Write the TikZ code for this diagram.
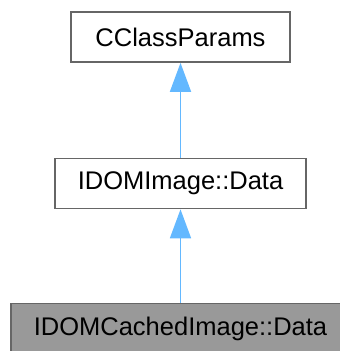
\documentclass[tikz,border=0pt]{standalone}
\usepackage{fontspec}
\setmainfont{Liberation Sans}
\usetikzlibrary{arrows.meta}
\definecolor{boxline}{HTML}{666666}
\definecolor{boxfill}{HTML}{999999}
\definecolor{edgeblue}{HTML}{63B8FF}
\begin{document}
\begin{tikzpicture}[x=1pt,y=1pt]
\tikzstyle{every node}+=[inner sep=0pt]
\tikzstyle{classbox}=[draw=boxline, line width=1.7pt, fill=white, minimum height=50pt, font=\fontsize{25.5}{30}\selectfont]
\tikzstyle{inherit}=[edgeblue, line width=1.7pt, -{Triangle[length=29pt,width=21pt]}]
\useasboundingbox (0,0) rectangle (340,-351);
\node [classbox, minimum width=219pt] (cclassparams) at (180.5,-37) {CClassParams};
\node [classbox, minimum width=251pt] (idomimage) at (180.5,-183.5) {IDOMImage::Data};
\node [classbox, minimum width=339pt, fill=boxfill] (idomcached) at (180.5,-328.5) {IDOMCachedImage::Data};
\draw [inherit] (idomimage.north) -- (cclassparams.south);
\draw [inherit] (idomcached.north) -- (idomimage.south);
\end{tikzpicture}
\end{document}
